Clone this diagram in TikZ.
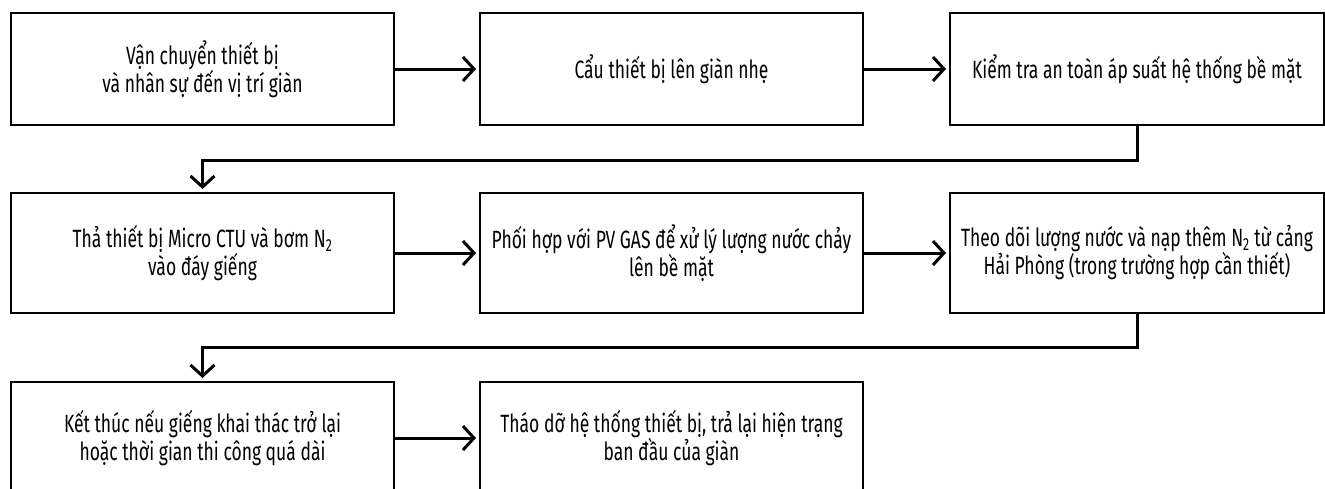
\documentclass[tikz,border=0pt]{standalone}
\usepackage{fontspec}
\setmainfont{Fira Sans}[FakeStretch=0.7]
\usetikzlibrary{positioning, arrows.meta}

\begin{document}
\begin{tikzpicture}[
  x=1pt, y=1pt,
  node distance=86pt,
  >={Straight Barb[length=11pt,width=24pt]},
  every node/.style={align=center, font=\fontsize{25}{28}\selectfont, draw, line width=1.5pt, minimum width=383pt, minimum height=112pt, inner sep=2pt, outer sep=0pt}
]
\useasboundingbox (0,0) rectangle (1325,-488);
\clip (0,0) rectangle (1325,-488);
\node (trans) at (202.5,-69) {Vận chuyển thiết bị \\ và nhân sự đến vị trí giàn};
\node (crane) [right=of trans] {Cẩu thiết bị lên giàn nhẹ};
\node (check) [right=87pt of crane, minimum width=374pt] {Kiểm tra an toàn áp suất hệ thống bề mặt};
\node (drop) [below=68pt of trans, minimum height=120pt] {Thả thiết bị Micro CTU và bơm N\textsubscript{2} \\ vào đáy giếng};
\node (coord) [right=of drop, minimum height=120pt] {Phối hợp với PV GAS để xử lý lượng nước chảy \\ lên bề mặt};
\node (watch) [right=87pt of coord, minimum width=374pt, minimum height=120pt] {Theo dõi lượng nước và nạp thêm N\textsubscript{2} từ cảng \\ Hải Phòng (trong trường hợp cần thiết)};
\node (finish) [below=69pt of drop] {Kết thúc nếu giếng khai thác trở lại \\ hoặc thời gian thi công quá dài};
\node (remove) [right=of finish] {Tháo dỡ hệ thống thiết bị, trả lại hiện trạng \\ ban đầu của giàn};

\draw[->, line width=3pt, shorten >=4pt] (trans) -- (crane);
\draw[->, line width=3pt, shorten >=4pt] (crane) -- (check);
\draw[->, line width=3pt, shorten >=4pt] (check.south) -- ++(0,-35) -| (drop.north);
\draw[->, line width=3pt, shorten >=4pt] (drop) -- (coord);
\draw[->, line width=3pt, shorten >=4pt] (coord) -- (watch);
\draw[->, line width=3pt, shorten >=4pt] (watch.south) -- ++(0,-34) -| (finish.north);
\draw[->, line width=3pt, shorten >=4pt] (finish) -- (remove);
\end{tikzpicture}
\end{document}
